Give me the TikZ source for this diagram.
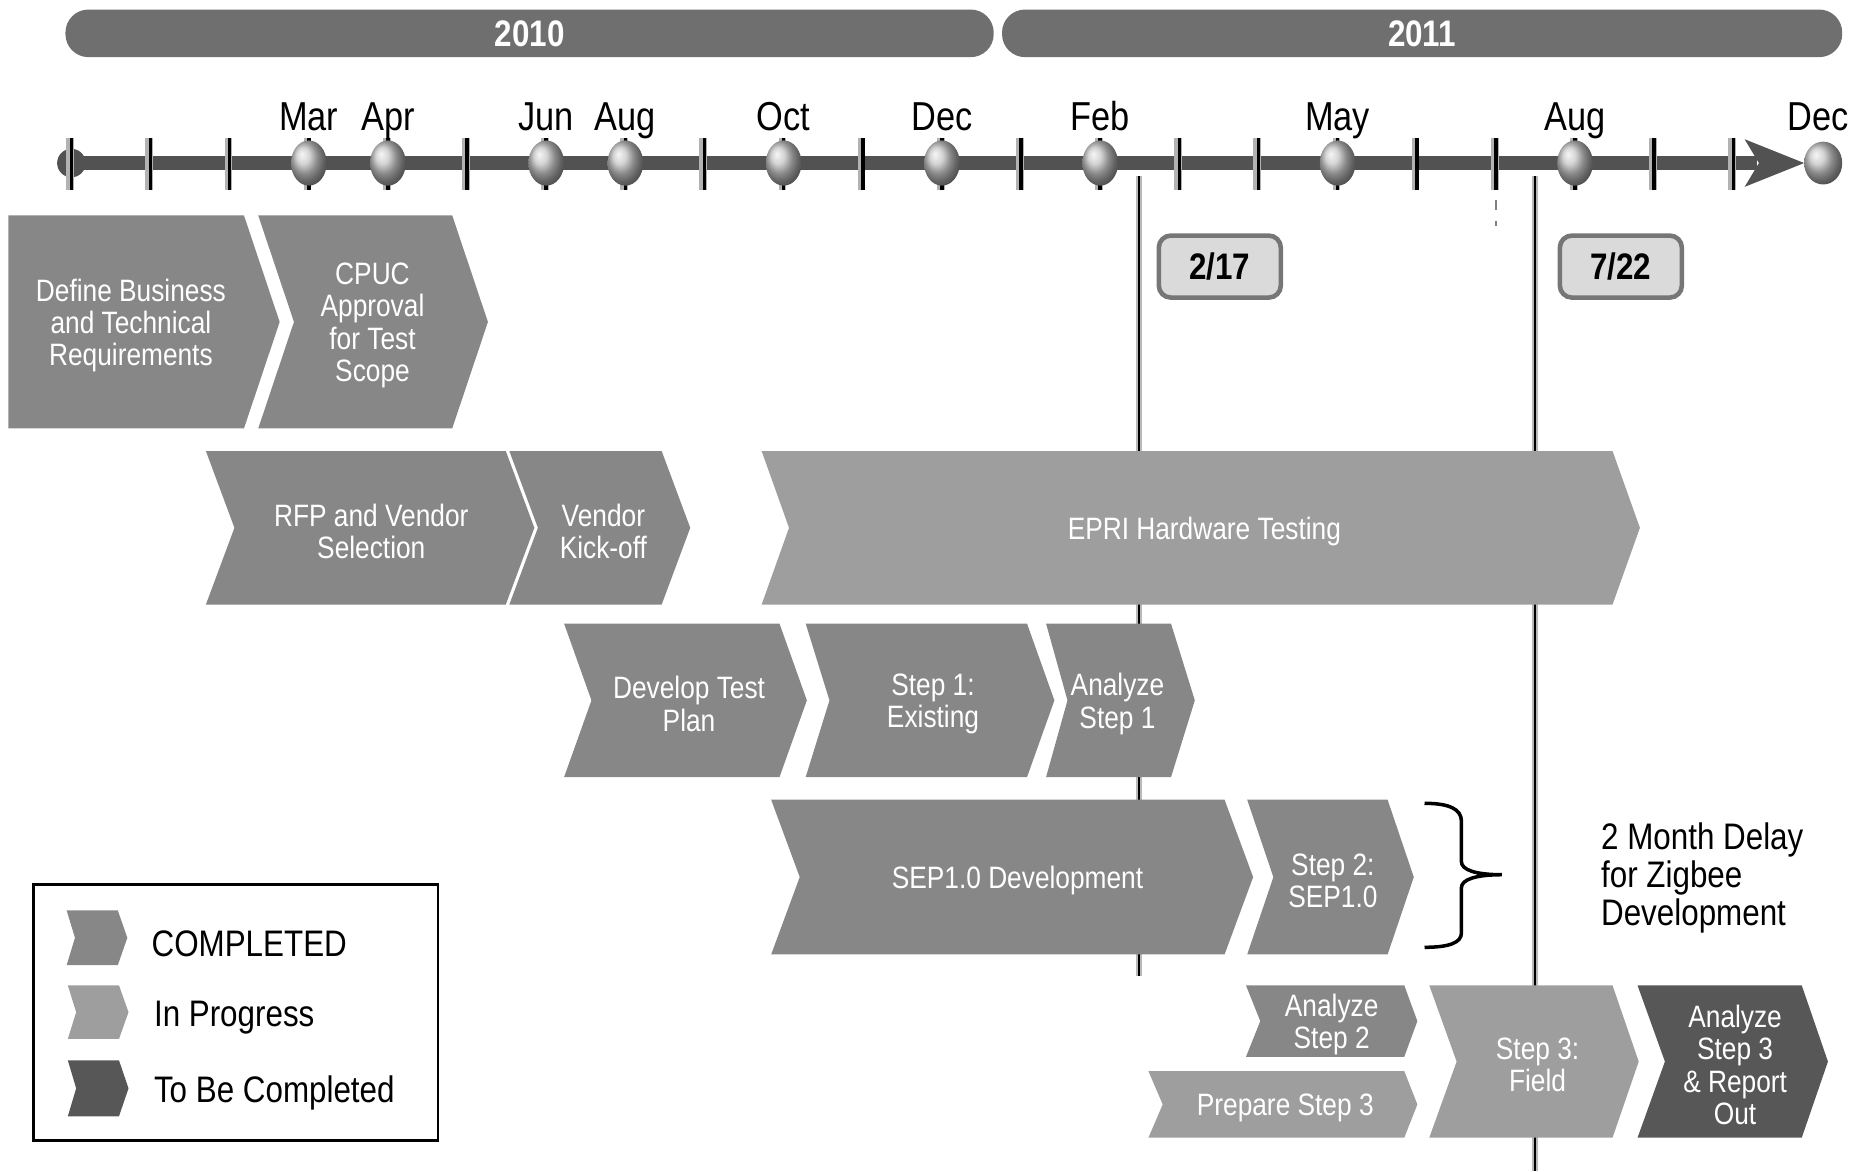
\documentclass[tikz,border=0pt]{standalone}
\usepackage{fontspec}
\setmainfont{Liberation Sans}[FakeStretch=0.85]
\definecolor{done}{HTML}{878787}
\definecolor{going}{HTML}{9E9E9E}
\definecolor{todo}{HTML}{575757}
\definecolor{yearbar}{HTML}{6F6F6F}
\definecolor{axis}{HTML}{525252}
\definecolor{boxedge}{HTML}{767676}
\definecolor{boxfill}{HTML}{DADADA}
\begin{document}
\begin{tikzpicture}[x=0.0119cm, y=-0.0119cm,
    chevtext/.style={text=white, align=center, yshift=-1pt, font=\fontsize{8.8}{9.2}\selectfont},
    month/.style={anchor=base, font=\fontsize{11.5}{12}\selectfont},
    yeartext/.style={text=white, font=\fontsize{10.5}{12}\selectfont\bfseries},
    datebox/.style={draw=boxedge, fill=boxfill, line width=1.3pt, rounded corners=0.12cm,
      minimum width=1.22cm, minimum height=0.62cm, font=\fontsize{10.5}{12}\selectfont\bfseries},
    legtext/.style={anchor=west, font=\fontsize{10.5}{12}\selectfont},
    halo/.style={gray!55, line width=1.8pt},
  ]
    \useasboundingbox (0,0) rectangle (1568,984);

    % Years
    \fill[yearbar, rounded corners=0.23cm] (55,8) rectangle (835,48);
    \fill[yearbar, rounded corners=0.23cm] (842,8) rectangle (1548,48);
    \node[yeartext] (y2010) at (445,28) {2010};
    \node[yeartext] (y2011) at (1195,28) {2011};

    % Milestone lines
    \draw[halo] (957,148) -- (957,820);
    \draw[line width=0.6pt] (957,148) -- (957,820);
    \draw[halo] (1290,148) -- (1290,984);
    \draw[line width=0.6pt] (1290,148) -- (1290,984);
    \draw[gray, dashed] (1257,150) -- (1257,190);

    % Timeline
    \fill[axis] (60,131) rectangle (1476,143);
    \fill[axis] (60,137) ellipse [x radius=12, y radius=12];
    \fill[axis] (1466,117) -- (1516,137) -- (1466,157) -- (1478,137) -- cycle;
    \foreach \i in {0,...,21} {
        \draw[gray!60, line width=2.2pt] ({59+66.5*\i},116) -- ({59+66.5*\i},160);
        \draw[line width=1pt] ({60+66.5*\i},116) -- ({60+66.5*\i},160);
    }
    \foreach \i/\m in {3/Mar,4/Apr,6/Jun,7/Aug,9/Oct,11/Dec,13/Feb,16/May,19/Aug} {
        \shade[ball color=gray!45] ({60+66.5*\i},137) ellipse [x radius=15, y radius=19];
        \node[month] (m\i) at ({60+66.5*\i},110) {\m};
    }
    \shade[ball color=gray!45] (1532,137) ellipse [x radius=16, y radius=18];
    \node[month] (m22) at (1528,110) {Dec};

    % Dates
    \node[datebox] (d217) at (1025,224) {2/17};
    \node[datebox] (d722) at (1362,224) {7/22};

    % Tasks
    \fill[done] (7,181) -- (205,181) -- (235,270.5) -- (205,360) -- (7,360) -- cycle;
    \node[chevtext] (define) at (110,270.5) {Define Business\\and Technical\\Requirements};
    \fill[done] (217,181) -- (380,181) -- (410,270.5) -- (380,360) -- (217,360) -- (247,270.5) -- cycle;
    \node[chevtext] (cpuc) at (313,270.5) {CPUC\\Approval\\for Test\\Scope};

    \fill[done] (173,379) -- (425,379) -- (449,443.5) -- (425,508) -- (173,508) -- (197,443.5) -- cycle;
    \node[chevtext] (rfp) at (312,443.5) {RFP and Vendor\\Selection};
    \fill[done] (428,379) -- (556,379) -- (580,443.5) -- (556,508) -- (428,508) -- (452,443.5) -- cycle;
    \node[chevtext] (kickoff) at (507,443.5) {Vendor\\Kick-off};
    \fill[going] (640,379) -- (1355,379) -- (1378,443.5) -- (1355,508) -- (640,508) -- (663,443.5) -- cycle;
    \node[chevtext] (epri) at (1012,443.5) {EPRI Hardware Testing};

    \fill[done] (474,524) -- (655,524) -- (678,588.5) -- (655,653) -- (474,653) -- (497,588.5) -- cycle;
    \node[chevtext] (plan) at (579,588.5) {Develop Test\\Plan};
    \fill[done] (677,524) -- (863,524) -- (886,588.5) -- (863,653) -- (677,653) -- (697,588.5) -- cycle;
    \node[chevtext] (step1) at (784,588.5) {Step 1:\\Existing};
    \fill[done] (879,524) -- (984,524) -- (1004,588.5) -- (984,653) -- (879,653) -- (897,588.5) -- cycle;
    \node[chevtext] (ana1) at (939,588.5) {Analyze\\Step 1};

    \fill[done] (648,672) -- (1029,672) -- (1053,737) -- (1029,802) -- (648,802) -- (672,737) -- cycle;
    \node[chevtext] (sep) at (855,737) {SEP1.0 Development};
    \fill[done] (1048,672) -- (1166,672) -- (1188,737) -- (1166,802) -- (1048,802) -- (1070,737) -- cycle;
    \node[chevtext] (step2) at (1120,737) {Step 2:\\SEP1.0};

    \fill[done] (1047,828) -- (1180,828) -- (1191,858) -- (1180,888) -- (1047,888) -- (1059,858) -- cycle;
    \node[chevtext] (ana2) at (1119,858) {Analyze\\Step 2};
    \fill[going] (965,900) -- (1180,900) -- (1191,928) -- (1180,956) -- (965,956) -- (977,928) -- cycle;
    \node[chevtext] (prep3) at (1080,928) {Prepare Step 3};
    \fill[going] (1201,828) -- (1355,828) -- (1377,892) -- (1355,956) -- (1201,956) -- (1224,892) -- cycle;
    \node[chevtext] (step3) at (1292,892) {Step 3:\\Field};
    \fill[todo] (1376,828) -- (1514,828) -- (1536,892) -- (1514,956) -- (1376,956) -- (1399,892) -- cycle;
    \node[chevtext] (ana3) at (1458,892) {Analyze\\Step 3\\\& Report\\Out};

    % Delay
    \draw[line width=1pt] (1197,675) .. controls (1218,675) and (1228,680) .. (1228,690) -- (1228,724)
        .. controls (1228,731) and (1240,735) .. (1262,735)
        .. controls (1240,735) and (1228,739) .. (1228,746) -- (1228,784)
        .. controls (1228,792) and (1218,796) .. (1197,796);
    \node[anchor=west, align=left, font=\fontsize{10.5}{10.8}\selectfont] (delay) at (1335,738)
        {2 Month Delay\\for Zigbee\\Development};

    % Legend
    \draw[line width=0.8pt] (28,743) rectangle (368,958);
    \fill[done] (56,765) -- (99,765) -- (107,788) -- (99,811) -- (56,811) -- (63,788) -- cycle;
    \node[legtext] (lgdone) at (117,793) {COMPLETED};
    \fill[going] (57,828) -- (100,828) -- (108,850.5) -- (100,873) -- (57,873) -- (64,850.5) -- cycle;
    \node[legtext] (lggoing) at (119,855) {In Progress};
    \fill[todo] (57,891) -- (100,891) -- (108,914.5) -- (100,938) -- (57,938) -- (64,914.5) -- cycle;
    \node[legtext] (lgtodo) at (119,918) {To Be Completed};
\end{tikzpicture}
\end{document}
